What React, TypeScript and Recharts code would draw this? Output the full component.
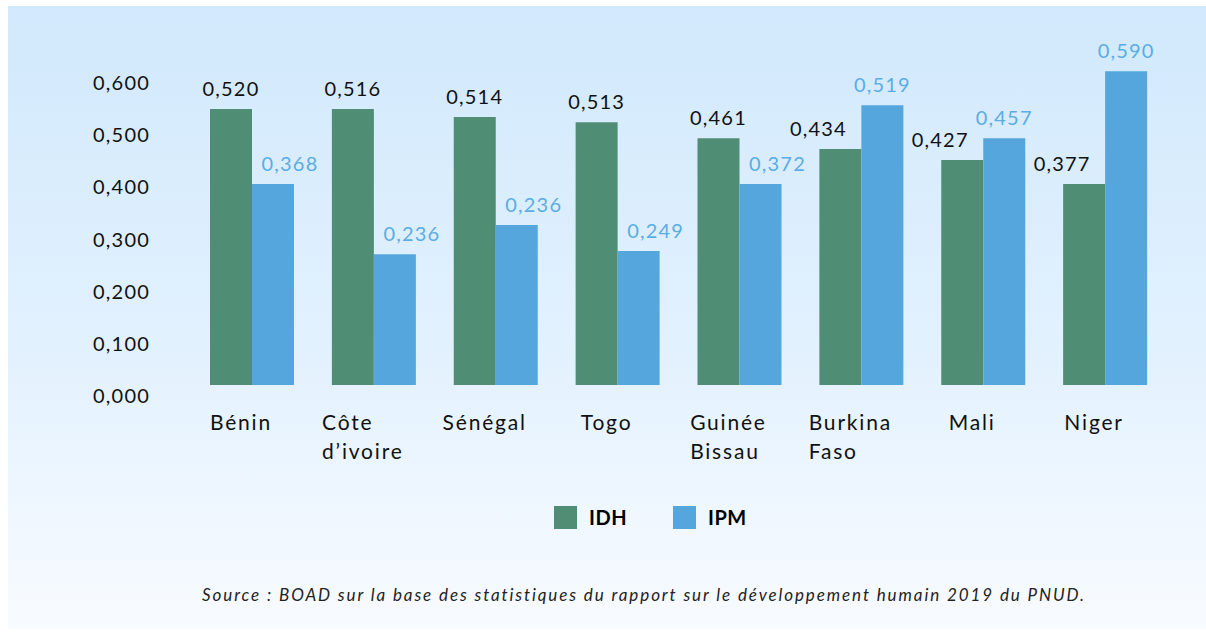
import React from "react";
import { BarChart, Bar, XAxis, YAxis, Legend, LabelList } from "recharts";

const countries = [
  "Bénin",
  "Côte\nd’ivoire",
  "Sénégal",
  "Togo",
  "Guinée\nBissau",
  "Burkina\nFaso",
  "Mali",
  "Niger",
];

// bar heights as drawn in the figure
const idhValues = [0.519, 0.519, 0.504, 0.494, 0.464, 0.444, 0.423, 0.378];
const ipmValues = [0.378, 0.246, 0.301, 0.252, 0.378, 0.526, 0.464, 0.59];

// value labels printed above the bars
const idhLabels = ["0,520", "0,516", "0,514", "0,513", "0,461", "0,434", "0,427", "0,377"];
const ipmLabels = ["0,368", "0,236", "0,236", "0,249", "0,372", "0,519", "0,457", "0,590"];

const yTicks = [0, 0.1, 0.2, 0.3, 0.4, 0.5, 0.6];

const GREEN = "#4f8e74";
const BLUE = "#56a6de";
const LABEL_BLUE = "#5aade4";
const FONT = "Lato, 'Noto Sans', sans-serif";

const data = countries.map((name, i) => ({
  name,
  idh: idhValues[i],
  ipm: ipmValues[i],
  idhLabel: idhLabels[i],
  ipmLabel: ipmLabels[i],
}));

let ctx: CanvasRenderingContext2D | null = null;
const textWidth = (s: string, font: string) => {
  if (!ctx) ctx = document.createElement("canvas").getContext("2d");
  if (!ctx) return s.length * 10;
  ctx.font = font;
  return ctx.measureText(s).width;
};

const CountryTick = ({ x, y, payload }: any) => {
  const lines = String(payload.value).split("\n");
  const w = Math.max(...lines.map((l) => textWidth(l, `21px ${FONT}`) + l.length * 1.8));
  const left = x - 11 - w / 2;
  return (
    <text fontSize={21} fontFamily={FONT} fill="#111" letterSpacing={1.8} dominantBaseline="central">
      {lines.map((l, i) => (
        <tspan key={i} x={left} y={y + 36 + i * 29}>
          {l}
        </tspan>
      ))}
    </text>
  );
};

const ValueTick = ({ x, y, payload }: any) => (
  <text
    x={x}
    y={y + 10 + payload.value * 10}
    textAnchor="end"
    dominantBaseline="central"
    fontSize={20}
    fontFamily={FONT}
    letterSpacing={1.2}
    fill="#111"
  >
    {payload.value.toFixed(3).replace(".", ",")}
  </text>
);

const makeLabel = (key: "idh" | "ipm") => (props: any) => {
  const { x, y, width, index } = props;
  const d = data[index];
  let dx = 0;
  // labels slide sideways when the neighbouring bar is taller
  if (key === "idh" && d.ipm > d.idh) dx = -22;
  if (key === "ipm" && d.idh > d.ipm) dx = 17;
  return (
    <text
      x={x + width / 2 + dx}
      y={y - 21}
      textAnchor="middle"
      dominantBaseline="central"
      fontSize={20}
      fontFamily={FONT}
      letterSpacing={1.2}
      fill={key === "idh" ? "#111" : LABEL_BLUE}
    >
      {key === "idh" ? d.idhLabel : d.ipmLabel}
    </text>
  );
};

const LegendContent = () => (
  <div style={{ display: "flex", alignItems: "center", fontFamily: FONT }}>
    {[
      { name: "IDH", color: GREEN },
      { name: "IPM", color: BLUE },
    ].map((s, i) => (
      <div key={s.name} style={{ display: "flex", alignItems: "center", marginLeft: i ? 46 : 0 }}>
        <div style={{ width: 23, height: 23, background: s.color }} />
        <span style={{ marginLeft: 12, fontSize: 20, fontWeight: 700, color: "#000", letterSpacing: 0.5 }}>
          {s.name}
        </span>
      </div>
    ))}
  </div>
);

export default function App() {
  return (
    <div style={{ position: "absolute", left: 0, top: 0, width: 1206, height: 634, background: "#fff" }}>
      <div
        style={{
          position: "absolute",
          left: 8,
          top: 6,
          width: 1198,
          height: 623,
          background: "linear-gradient(to bottom, #d1e9fc 0%, #e2f1fe 55%, #f8fbff 100%)",
        }}
      />
      <div style={{ position: "absolute", left: 0, top: 0 }}>
        <BarChart
          width={1206}
          height={634}
          data={data}
          margin={{ top: 66, right: 40, left: 0, bottom: 159 }}
          barSize={42}
          barGap={0}
        >
          <XAxis
            dataKey="name"
            axisLine={false}
            tickLine={false}
            tickSize={0}
            tickMargin={0}
            height={90}
            interval={0}
            tick={<CountryTick />}
          />
          <YAxis
            domain={[0, 0.6]}
            ticks={yTicks}
            axisLine={false}
            tickLine={false}
            tickSize={0}
            tickMargin={41}
            width={191}
            tick={<ValueTick />}
          />
          <Legend
            layout="horizontal"
            verticalAlign="middle"
            align="center"
            wrapperStyle={{ top: 505, left: 554, width: 260 }}
            content={<LegendContent />}
          />
          <Bar dataKey="idh" name="IDH" fill={GREEN} isAnimationActive={false}>
            <LabelList dataKey="idh" content={makeLabel("idh")} />
          </Bar>
          <Bar dataKey="ipm" name="IPM" fill={BLUE} isAnimationActive={false}>
            <LabelList dataKey="ipm" content={makeLabel("ipm")} />
          </Bar>
        </BarChart>
      </div>
      <div
        style={{
          position: "absolute",
          left: 0,
          width: 1288,
          top: 584,
          textAlign: "center",
          fontFamily: FONT,
          fontStyle: "italic",
          fontSize: 17,
          letterSpacing: 1.9,
          color: "#222",
        }}
      >
        Source : BOAD sur la base des statistiques du rapport sur le développement humain 2019 du PNUD.
      </div>
    </div>
  );
}
